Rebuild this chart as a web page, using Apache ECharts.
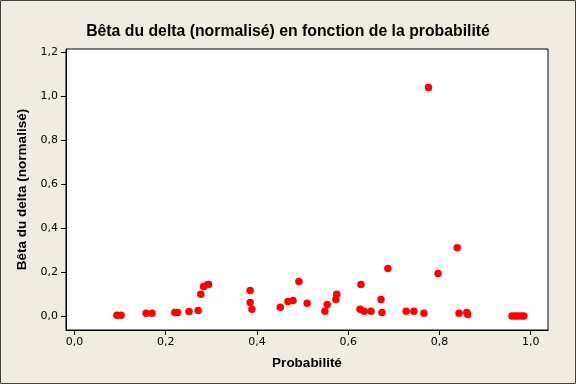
<!DOCTYPE html>
<html><head><meta charset="utf-8">
<script src="https://cdn.jsdelivr.net/npm/echarts@6/dist/echarts.min.js"></script>
<style>html,body{margin:0;padding:0;background:#F0ECE2}#c{width:576px;height:384px}</style>
</head><body><div id="c"></div>
<script>
const probabilite = [0.093,0.102,0.157,0.170,0.220,0.226,0.251,0.271,0.277,0.283,0.292,0.294,
0.385,0.385,0.389,0.451,0.468,0.479,0.492,0.510,0.549,0.554,0.573,0.575,
0.626,0.628,0.635,0.650,0.672,0.674,0.687,0.727,0.744,0.766,0.776,0.797,0.839,0.843,0.860,0.862,
0.959,0.966,0.972,0.979,0.985];
const beta = [0.005,0.005,0.014,0.014,0.018,0.018,0.022,0.027,0.100,0.136,0.145,0.145,
0.118,0.063,0.032,0.041,0.068,0.072,0.158,0.059,0.023,0.054,0.077,0.100,
0.032,0.145,0.023,0.023,0.077,0.018,0.217,0.023,0.023,0.014,1.040,0.195,0.312,0.014,0.018,0.009,
0.002,0.002,0.002,0.002,0.002];
const xTicks = [0,0.2,0.4,0.6,0.8,1.0];
const yTicks = [0,0.2,0.4,0.6,0.8,1.0,1.2];
const fmt = v => v.toFixed(1).replace('.', ',');
const chart = echarts.init(document.getElementById('c'));
chart.setOption({
  backgroundColor:'#F0ECE2',
  animation:false,
  title:{text:'Bêta du delta (normalisé) en fonction de la probabilité',left:'center',top:19,
    textStyle:{fontFamily:'Liberation Sans',fontWeight:'bold',fontSize:15.8,color:'#000'}},
  graphic:[{type:'rect',shape:{x:0.5,y:0.5,width:575,height:383},style:{fill:null,stroke:'#444',lineWidth:1}}],
  grid:{left:66,top:49,right:28,bottom:54,show:true,backgroundColor:'#fff',borderColor:'#000',borderWidth:1},
  xAxis:{type:'value',min:-0.0186,max:1.038,
    name:'Probabilité',nameLocation:'middle',nameGap:26,
    nameTextStyle:{fontFamily:'Liberation Sans',fontWeight:'bold',fontSize:13.5,color:'#000'},
    axisLine:{show:true,onZero:false,lineStyle:{color:'#000'}},
    axisTick:{show:true,length:5,customValues:xTicks,lineStyle:{color:'#000'}},
    axisLabel:{customValues:xTicks,formatter:fmt,fontFamily:'DejaVu Sans',fontSize:11,color:'#000',margin:7},
    splitLine:{show:false}},
  yAxis:{type:'value',min:-0.062,max:1.215,
    name:'Bêta du delta (normalisé)',nameLocation:'middle',nameGap:35,
    nameTextStyle:{fontFamily:'Liberation Sans',fontWeight:'bold',fontSize:13.5,color:'#000'},
    axisLine:{show:true,onZero:false,lineStyle:{color:'#000'}},
    axisTick:{show:true,length:5,customValues:yTicks,lineStyle:{color:'#000'}},
    axisLabel:{customValues:yTicks,formatter:fmt,fontFamily:'DejaVu Sans',fontSize:11,color:'#000',margin:8},
    splitLine:{show:false}},
  series:[{type:'scatter',symbol:'circle',symbolSize:7.5,itemStyle:{color:'#FF0000',opacity:1},
    data:probabilite.map((p,i)=>[p,beta[i]])}]
});
</script></body></html>
